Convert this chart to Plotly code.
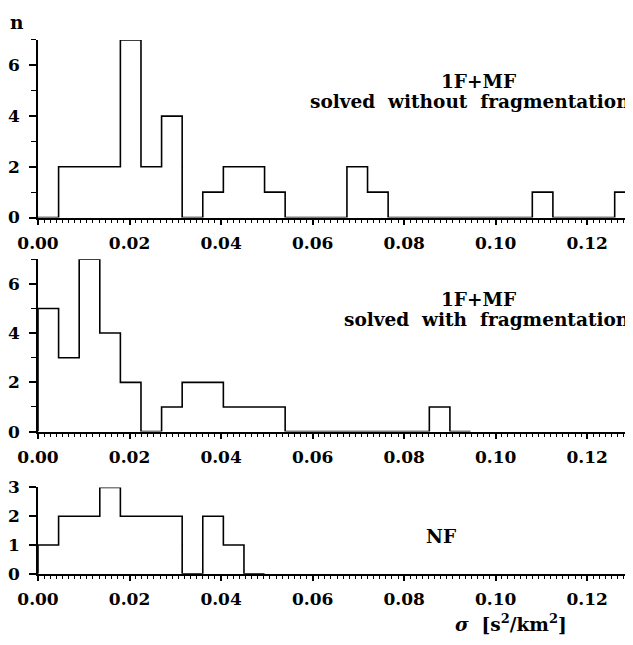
import numpy as np
import plotly.graph_objects as go

# ---- data ----
bin_width = 0.0045
counts_top = [0, 2, 2, 2, 7, 2, 4, 0, 1, 2, 2, 1, 0, 0, 0, 2, 1, 0, 0, 0, 0, 0, 0, 0, 1, 0, 0, 0, 1]
counts_mid = [5, 3, 7, 4, 2, 0, 1, 2, 2, 1, 1, 1, 0, 0, 0, 0, 0, 0, 0, 1, 0]
counts_bot = [1, 2, 2, 3, 2, 2, 2, 0, 2, 1, 0]
x_tickvals = [0.00, 0.02, 0.04, 0.06, 0.08, 0.10, 0.12]
x_ticktext = ["0.00", "0.02", "0.04", "0.06", "0.08", "0.10", "0.12"]
label_top = ["1F+MF", "solved  without  fragmentation"]
label_mid = ["1F+MF", "solved  with  fragmentation"]
label_bot = "NF"

FONT = "DejaVu Serif"
FS = 17
FA = 18.5
OFF = 8            # page body margin offset
W, H = 633 - OFF, 645 - OFF
L = 36 - OFF
PW = W - L         # plot-area width

def py(p):         # screen y -> paper y
    return 1 - (p - OFF) / H

def pxx(p):        # screen x -> paper x
    return (p - OFF - L) / PW

def step(counts):
    edges = np.arange(len(counts) + 1) * bin_width
    x = [edges[0]] + list(edges)
    y = [0] + list(counts) + [0]
    return x, y

fig = go.Figure()
for i, c in enumerate([counts_top, counts_mid, counts_bot], start=1):
    x, y = step(c)
    fig.add_trace(go.Scatter(
        x=x, y=y, mode="lines", line=dict(shape="hv", color="black", width=1.6),
        xaxis="x" if i == 1 else f"x{i}", yaxis="y" if i == 1 else f"y{i}",
        showlegend=False, hoverinfo="skip"))

domains = [
    [py(214), py(30.7)],
    [py(435), py(257)],
    [py(581.7), py(492.7)],
]
yranges = [[0, 7], [0, 7], [0, 3]]
ytv = [[0, 2, 4, 6], [0, 2, 4, 6], [0, 1, 2, 3]]

layout = dict(
    width=W, height=H,
    margin=dict(l=L, r=0, t=0, b=0, pad=0),
    paper_bgcolor="white", plot_bgcolor="white",
    font=dict(family=FONT, size=FS, color="black"),
    showlegend=False,
)
for i in range(3):
    xs = "xaxis" if i == 0 else f"xaxis{i+1}"
    ys = "yaxis" if i == 0 else f"yaxis{i+1}"
    ya = "y" if i == 0 else f"y{i+1}"
    xa = "x" if i == 0 else f"x{i+1}"
    layout[xs] = dict(
        range=[0, 0.13], anchor=ya, domain=[0, 1],
        tickvals=x_tickvals, ticktext=x_ticktext,
        showline=True, linecolor="black", linewidth=1.6,
        ticks="outside", ticklen=6, tickwidth=1.6, tickcolor="black",
        minor=dict(dtick=0.02 / 15, tick0=0, ticks="outside", ticklen=4,
                   tickwidth=1.2, tickcolor="black", showgrid=False),
        showgrid=False, zeroline=False,
        tickfont=dict(family=FONT, size=FS, color="black", weight="bold"),
        ticklabelstandoff=3,
    )
    ydef = dict(
        range=yranges[i], anchor=xa, domain=domains[i],
        tickvals=ytv[i],
        showline=True, linecolor="black", linewidth=1.6,
        ticks="outside", ticklen=7, tickwidth=1.6, tickcolor="black",
        showgrid=False, zeroline=False,
        tickfont=dict(family=FONT, size=FS, color="black", weight="bold"),
        ticklabelstandoff=6,
    )
    if i < 2:
        ydef["minor"] = dict(dtick=1, tick0=0, ticks="outside", ticklen=5,
                             tickwidth=1.4, tickcolor="black", showgrid=False)
    layout[ys] = ydef

fig.update_layout(**layout)

bold = dict(family=FONT, size=FA, color="black", weight="bold")
ann = [
    dict(text=label_top[0], x=pxx(478), y=py(74), xanchor="center"),
    dict(text=label_top[1], x=pxx(632), y=py(94), xanchor="right"),
    dict(text=label_mid[0], x=pxx(478), y=py(299), xanchor="center"),
    dict(text=label_mid[1], x=pxx(632), y=py(319), xanchor="right"),
    dict(text=label_bot, x=pxx(440), y=py(543), xanchor="center"),
    dict(text="n", x=pxx(15), y=py(13), xanchor="center"),
    dict(text="<i>σ</i>  [s<sup>2</sup>/km<sup>2</sup>]", x=pxx(511), y=py(633),
         xanchor="center"),
]
for a in ann:
    a.update(xref="paper", yref="paper", yanchor="middle", showarrow=False, font=bold)
fig.update_layout(annotations=ann)

fig.write_html("out.html")
